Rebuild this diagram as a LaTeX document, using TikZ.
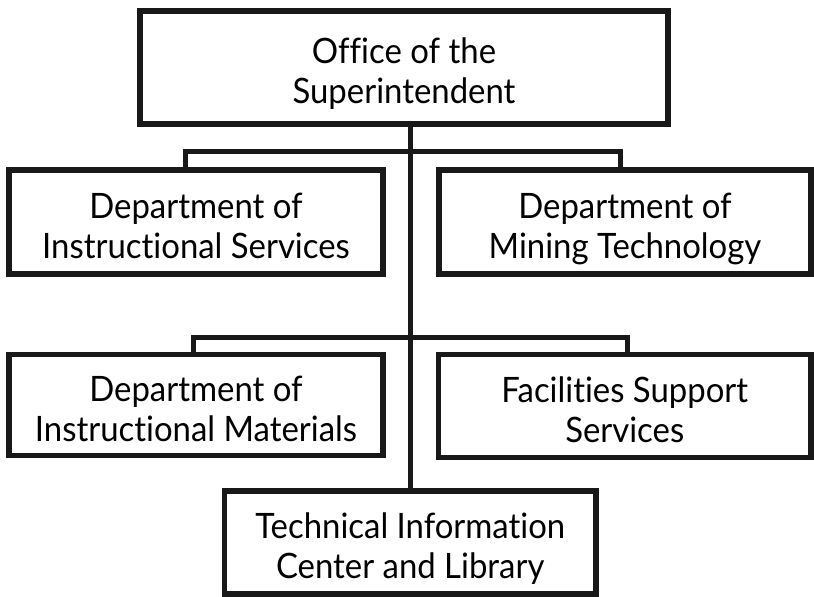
\documentclass[tikz,border=0pt]{standalone}
\usepackage{fontspec}
\setmainfont{Lato}[FakeStretch=0.94,Ligatures=NoCommon]
\begin{document}
\begin{tikzpicture}[x=1pt,y=-1pt,
  orgbox/.style={draw=black!90, line width=5.5pt, inner sep=0pt, align=center,
    text height=74pt, text depth=2pt,
    font=\fontsize{35}{40}\selectfont},
  conn/.style={draw=black!90, line width=5pt}]
\useasboundingbox (0,0) rectangle (814,597);
\node[orgbox, minimum width=528pt, minimum height=113pt] (top) at (404,67.5) {Office of the\\Superintendent};
\node[orgbox, minimum width=374pt, minimum height=104pt] (ids) at (196,222) {Department of\\Instructional Services};
\node[orgbox, minimum width=372pt, minimum height=104pt] (mt) at (625,222) {Department of\\Mining Technology};
\node[orgbox, minimum width=374pt, minimum height=101pt] (im) at (196,405) {Department of\\Instructional Materials};
\node[orgbox, minimum width=372.5pt, minimum height=103pt] (fs) at (624.75,406) {Facilities Support\\Services};
\node[orgbox, minimum width=371.5pt, minimum height=103pt] (tib) at (410.25,542.5) {Technical Information\\Center and Library};
\coordinate (j1l) at (185,151.5);
\coordinate (j1r) at (620,151.5);
\coordinate (j2l) at (193.5,337);
\coordinate (j2r) at (627.5,337);
\draw[conn] (top.south -| tib.north) -- (tib.north);
\draw[conn] (j1l |- ids.north) -- (j1l) -- (j1r) -- (j1r |- mt.north);
\draw[conn] (j2l |- im.north) -- (j2l) -- (j2r) -- (j2r |- fs.north);
\end{tikzpicture}
\end{document}
